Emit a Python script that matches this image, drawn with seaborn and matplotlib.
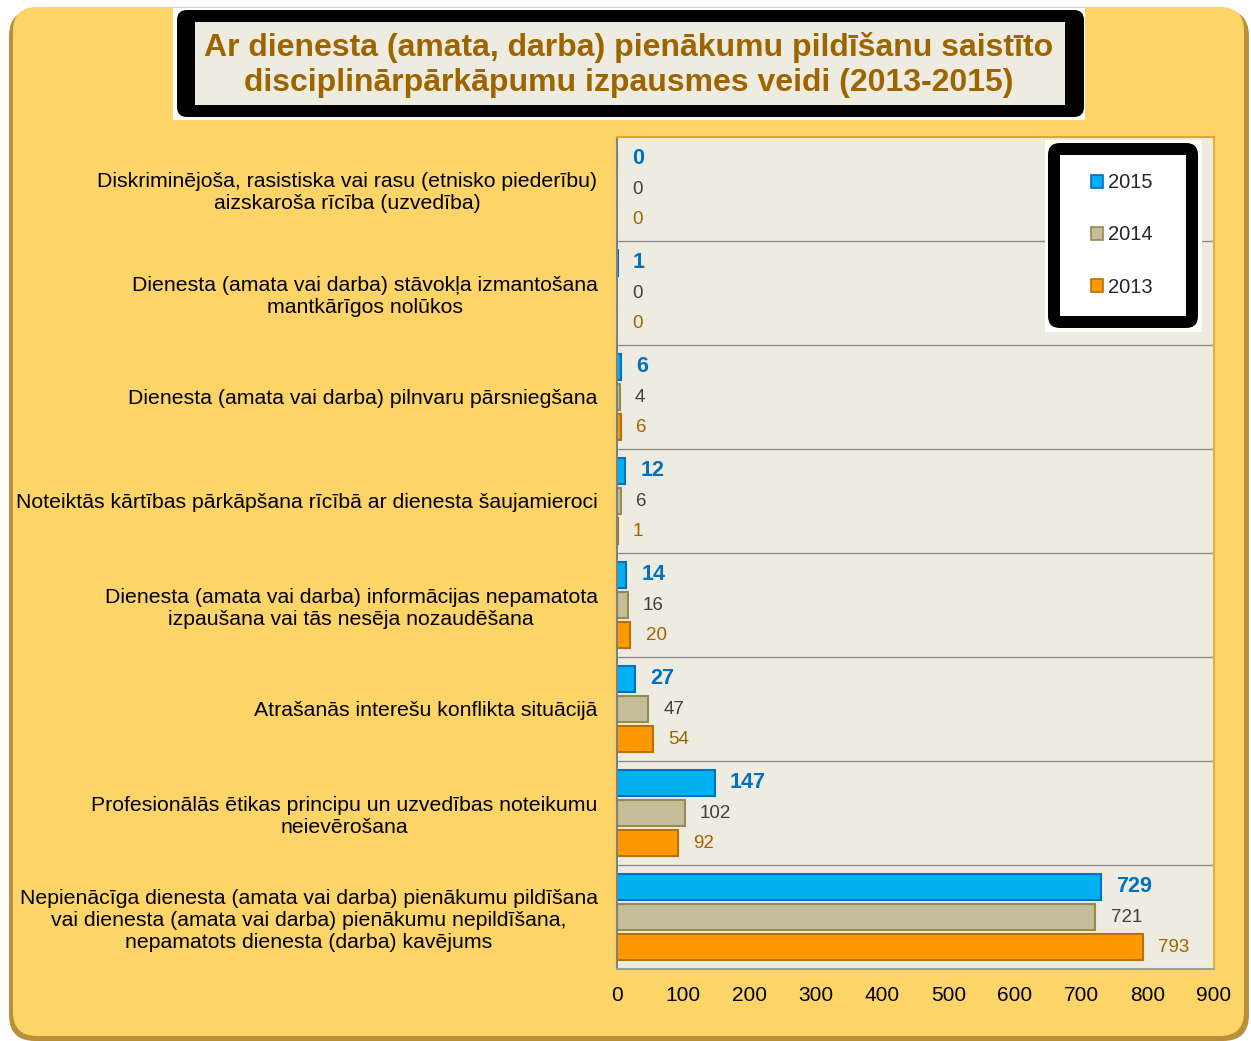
import pandas as pd
import matplotlib.pyplot as plt
import seaborn as sns
from matplotlib.patches import FancyBboxPatch, Patch
from matplotlib.transforms import IdentityTransform

categories = [
    'Diskriminējoša, rasistiska vai rasu (etnisko piederību)\naizskaroša rīcība (uzvedība)',
    'Dienesta (amata vai darba) stāvokļa izmantošana\nmantkārīgos nolūkos',
    'Dienesta (amata vai darba) pilnvaru pārsniegšana',
    'Noteiktās kārtības pārkāpšana rīcībā ar dienesta šaujamieroci',
    'Dienesta (amata vai darba) informācijas nepamatota\nizpaušana vai tās nesēja nozaudēšana',
    'Atrašanās interešu konflikta situācijā',
    'Profesionālās ētikas principu un uzvedības noteikumu\nneievērošana',
    'Nepienācīga dienesta (amata vai darba) pienākumu pildīšana\n'
    'vai dienesta (amata vai darba) pienākumu nepildīšana,\n'
    'nepamatots dienesta (darba) kavējums',
]
years = ['2015', '2014', '2013']
values_2015 = [0, 1, 6, 12, 14, 27, 147, 729]
values_2014 = [0, 0, 4, 6, 16, 47, 102, 721]
values_2013 = [0, 0, 6, 1, 20, 54, 92, 793]
x_ticks = [0, 100, 200, 300, 400, 500, 600, 700, 800, 900]
title = ('Ar dienesta (amata, darba) pienākumu pildīšanu saistīto\n'
         'disciplinārpārkāpumu izpausmes veidi (2013-2015)')

bar_colors = {'2015': '#00B0F0', '2014': '#C4BD97', '2013': '#FF9900'}
edge_colors = {'2015': '#0070C0', '2014': '#948A54', '2013': '#B87000'}
label_colors = {'2015': '#0070C0', '2014': '#404040', '2013': '#9C6500'}

df = pd.DataFrame({
    'Kategorija': categories * 3,
    'Gads': [y for y in years for _ in categories],
    'Skaits': values_2015 + values_2014 + values_2013,
})

sns.set_style('white')
plt.rcParams['font.family'] = ['Liberation Sans', 'DejaVu Sans']

W, H = 1251, 1041
fig = plt.figure(figsize=(W / 100, H / 100), dpi=100, facecolor='white')


def box(x0, y0, x1, y1, r=0, z=-5, **kw):
    # pixel coords, measured from the top-left corner
    p = FancyBboxPatch((x0, H - y1), x1 - x0, y1 - y0,
                       boxstyle=f'round,pad=0,rounding_size={r}',
                       transform=IdentityTransform(), zorder=z, **kw)
    fig.add_artist(p)
    return p


# background panel with shadow
box(9, 10, 1249, 1041, r=26, facecolor='#B8903A', edgecolor='none', z=-10)
box(13, 7, 1244, 1036, r=24, facecolor='#FDD468', edgecolor='none', z=-9)

# title box
box(173, 8, 1085, 120, facecolor='white', edgecolor='none', z=-8)
box(177, 10, 1084, 117, r=10, facecolor='black', edgecolor='none', z=-7)
box(195, 22, 1065, 105, facecolor='#EEEBE0', edgecolor='none', z=-6)
fig.text(629 / W, 1 - 65 / H, title, ha='center', va='center', fontsize=23,
         fontweight='bold', color='#9C6500', linespacing=1.2)

ax = fig.add_axes([617 / W, 1 - 969 / H, (1214 - 617) / W, (969 - 137) / H])
ax.set_facecolor('#EEEBE0')

sns.barplot(data=df, x='Skaits', y='Kategorija', hue='Gads', hue_order=years,
            order=categories, palette=bar_colors, orient='h', width=0.87,
            gap=0.14, linewidth=1.5, saturation=1, legend=False, ax=ax)

for cont, yr in zip(ax.containers, years):
    for bar in cont:
        bar.set_edgecolor(edge_colors[yr])
    ax.bar_label(cont, padding=11, color=label_colors[yr],
                 fontsize=15.5 if yr == '2015' else 13.5,
                 fontweight='bold' if yr == '2015' else 'normal')

for i in range(len(categories) - 1):
    ax.axhline(i + 0.5, color='#8C8C8C', linewidth=1, zorder=0)

ax.set_xlim(0, 900)
ax.set_ylim(len(categories) - 0.5, -0.5)
ax.set_xticks(x_ticks)
ax.set_xlabel('')
ax.set_ylabel('')
ax.tick_params(axis='x', length=0, pad=12, labelsize=15, labelcolor='black')
ax.tick_params(axis='y', length=0, pad=14, labelsize=15.3, labelcolor='black')
for lab in ax.get_yticklabels():
    lab.set_multialignment('center')

ax.spines['left'].set_color('#808080')
ax.spines['bottom'].set_color('#A0A0A0')
ax.spines['top'].set_color('#E0A820')
ax.spines['right'].set_color('#E0B040')
for s in ax.spines.values():
    s.set_linewidth(1.5)

# legend box
box(1045, 140, 1202, 332, facecolor='white', edgecolor='none', z=5)
box(1048, 143, 1198, 328, r=12, facecolor='black', edgecolor='none', z=6)
box(1060, 155, 1186, 316, facecolor='white', edgecolor='none', z=7)
handles = [Patch(facecolor=bar_colors[y], edgecolor=edge_colors[y], linewidth=1.2)
           for y in years]
leg = fig.legend(handles, years, loc='center', bbox_to_anchor=(1122 / W, 1 - 235 / H),
                 frameon=False, fontsize=14.5, handlelength=0.6, handleheight=0.6,
                 handletextpad=0.25, labelspacing=1.65)
leg.set_zorder(10)

plt.savefig('out.png', dpi=100, facecolor=fig.get_facecolor())
